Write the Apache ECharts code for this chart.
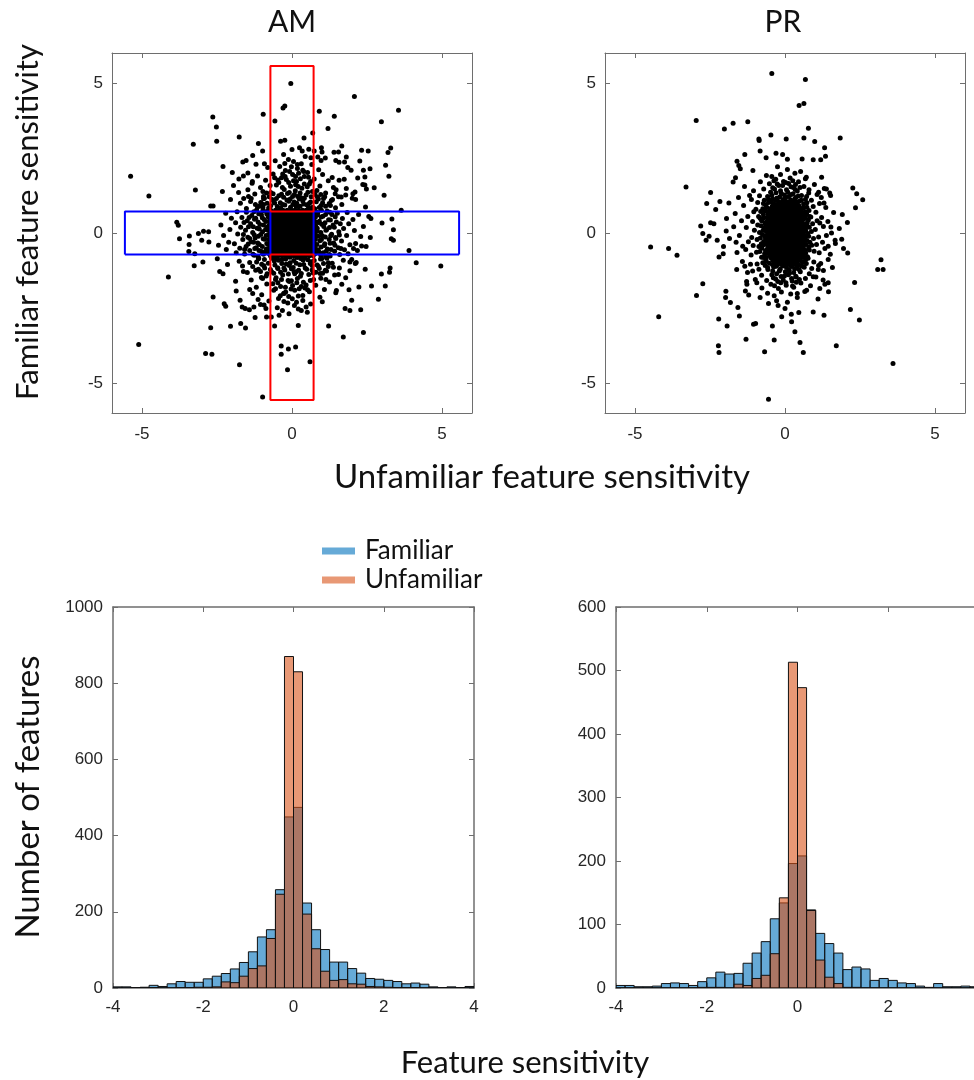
<!DOCTYPE html>
<html><head><meta charset="utf-8">
<script src="https://cdn.jsdelivr.net/npm/echarts@6/dist/echarts.min.js"></script>
<style>html,body{margin:0;padding:0;background:#fff}#c{width:974px;height:1080px}</style>
</head><body><div id="c"></div><script>
// ---------- Scatter data (Unfamiliar x, Familiar y) ----------
const amOuter = [[-0.04,4.98],[2.08,4.55],[-0.24,4.23],[-0.30,4.17],[-0.96,3.96],[0.91,4.06],[1.41,3.89],[3.55,4.09],[-2.64,3.87],[-0.57,3.73],[-2.52,3.53],[1.20,3.48],[0.69,3.33],[2.98,3.71],[-1.76,3.20],[-2.51,3.06],[-3.29,2.96],[-0.38,3.06],[-0.24,3.09],[0.40,3.17],[-1.12,2.98],[-0.98,2.73],[0.0,2.78],[0.25,2.84],[0.34,2.73],[0.56,2.79],[0.98,2.84],[1.00,2.70],[1.40,2.69],[1.55,2.70],[1.66,2.90],[1.81,2.53],[2.32,2.76],[2.54,2.73],[3.29,2.83],[3.20,2.68],[0.74,2.73],[0.63,2.51],[0.86,2.53],[1.11,2.50],[1.46,2.42],[1.57,2.36],[1.75,2.37],[2.26,2.40],[3.12,2.26],[3.23,1.89],[-1.31,2.58],[-1.53,2.42],[-1.64,2.37],[-1.20,2.29],[-2.30,2.22],[-1.99,2.02],[-3.22,1.43],[-2.71,0.90],[-2.63,0.90],[-1.95,1.58],[-1.77,1.80],[-1.62,1.90],[-1.47,2.00],[-4.77,1.23],[-5.38,1.89],[1.86,2.18],[1.97,2.09],[2.38,2.09],[2.60,2.14],[2.19,1.83],[2.43,1.87],[2.74,1.51],[3.07,1.26],[2.43,1.60],[2.48,1.47],[2.10,1.37],[2.12,1.12],[2.03,1.31],[1.47,1.44],[1.64,1.20],[1.79,1.27],[1.57,1.76],[1.74,1.79],[2.45,0.87],[2.63,0.48],[3.00,0.33],[3.33,0.47],[3.38,0.11],[3.64,0.76],[3.31,-0.19],[3.38,-0.24],[3.90,-0.58],[4.14,-0.99],[4.96,-1.10],[3.27,-1.17],[3.25,-1.31],[2.98,-1.37],[3.11,-1.77],[2.65,-1.77],[2.88,-2.21],[2.38,-3.32],[2.29,-2.56],[1.93,-2.58],[1.77,-2.52],[1.71,-3.47],[1.22,-3.10],[2.23,-1.80],[1.99,-2.24],[1.90,-1.89],[1.46,-1.99],[1.66,-1.71],[1.79,-1.49],[2.11,-1.02],[2.32,-0.43],[2.05,-0.52],[1.99,-0.88],[1.93,-0.97],[-4.12,-1.47],[-5.11,-3.72],[-2.88,-4.02],[-2.67,-4.04],[-1.75,-4.39],[-0.98,-5.47],[-0.15,-4.56],[-0.36,-3.77],[-0.12,-3.87],[0.12,-3.80],[-0.36,-4.04],[0.60,-4.29],[-0.10,-2.69],[0.21,-3.08],[-0.58,-3.10],[-0.69,-2.80],[-0.43,-2.74],[-0.32,-2.58],[0.21,-2.53],[0.51,-2.64],[0.47,-2.47],[-2.71,-3.16],[-2.05,-3.11],[-1.55,-3.17],[-1.71,-3.02],[-2.21,-2.44],[-2.26,-2.36],[-2.63,-2.13],[-2.97,-0.97],[-3.26,-1.09],[-3.01,-0.24],[-2.77,-0.30],[-3.12,-0.02],[-3.43,-0.38],[-3.42,-0.10],[-3.75,-0.19],[-3.84,0.36],[-3.79,0.26],[-3.44,-0.62],[-3.24,-0.69],[-2.78,0.04],[-2.95,0.06],[-2.49,-0.86],[-2.30,-1.36],[-1.86,-1.93],[-1.73,-2.24],[-1.66,-2.47],[-1.56,-2.52],[-1.27,-2.47],[-1.23,-2.82],[-1.42,-2.56],[-0.87,-2.52],[-0.85,-2.80],[-0.93,-2.40],[-1.31,-2.02],[-1.13,-2.22]];
const amMid = [[-0.12,2.45],[0.05,2.38],[0.31,2.31],[-0.41,2.22],[0.18,2.15],[-0.22,2.08],[0.52,2.02],[-0.63,1.97],[0.02,1.95],[0.41,1.88],[-0.35,1.84],[0.74,1.80],[-0.88,1.76],[0.15,1.72],[-0.11,1.68],[0.58,1.63],[-0.52,1.60],[0.93,1.57],[-1.05,1.52],[0.33,1.49],[-0.26,1.45],[0.11,1.41],[0.68,1.38],[-0.71,1.35],[1.12,1.33],[-1.24,1.30],[0.47,1.27],[-0.44,1.24],[0.02,1.22],[0.85,1.19],[-0.92,1.16],[0.24,1.13],[-0.17,1.10],[1.31,1.08],[-1.38,1.05],[0.62,1.03],[-0.58,1.00],[0.39,0.97],[-0.31,0.95],[0.97,0.92],[-1.08,0.90],[0.14,0.88],[-0.05,0.86],[1.45,0.84],[-1.52,0.82],[0.76,0.81],[-0.78,0.83],[-0.28,2.62],[0.44,2.55],[-0.56,2.41],[0.66,2.28],[-0.81,2.18],[0.89,2.11],[1.02,1.95],[-1.15,1.90],[1.21,1.74],[-1.33,1.66],[1.38,1.52],[-1.47,1.44],[1.55,1.21],[-1.61,1.15],[1.66,0.95],[-1.72,0.99],[-0.02,2.21],[0.22,1.99],[-0.47,1.77],[0.51,1.54],[-0.15,1.32],[0.29,1.18],[-0.66,1.12],[0.07,1.03],[0.55,0.87],[-0.38,0.84],[0.83,1.42],[-0.97,1.38],[0.12,1.61],[-0.23,1.88],[0.36,2.09],[0.62,1.72],[-0.73,1.58],[0.08,-2.42],[-0.14,-2.33],[0.36,-2.25],[-0.45,-2.18],[0.21,-2.10],[-0.26,-2.01],[0.58,-1.96],[-0.61,-1.91],[-0.03,-1.87],[0.43,-1.83],[-0.38,-1.78],[0.79,-1.74],[-0.84,-1.70],[0.16,-1.66],[-0.09,-1.62],[0.61,-1.58],[-0.55,-1.55],[0.96,-1.51],[-1.02,-1.48],[0.28,-1.44],[-0.31,-1.40],[0.09,-1.36],[0.71,-1.33],[-0.68,-1.29],[1.15,-1.27],[-1.21,-1.24],[0.49,-1.21],[-0.47,-1.18],[0.04,-1.15],[0.88,-1.12],[-0.94,-1.09],[0.26,-1.06],[-0.19,-1.03],[1.34,-1.01],[-1.41,-0.98],[0.64,-0.96],[-0.59,-0.93],[0.37,-0.90],[-0.33,-0.88],[0.99,-0.86],[-1.11,-0.84],[0.17,-0.82],[-0.07,-0.81],[0.31,-2.58],[-0.49,-2.49],[0.62,-2.37],[-0.77,-2.27],[0.93,-2.14],[-1.01,-2.06],[1.08,-1.88],[-1.19,-1.81],[1.25,-1.63],[-1.36,-1.57],[1.42,-1.40],[-1.49,-1.32],[1.58,-1.17],[-1.65,-1.10],[1.71,-0.91],[-1.76,-0.94],[0.01,-2.19],[-0.21,-1.97],[0.47,-1.73],[-0.53,-1.49],[0.14,-1.29],[-0.27,-1.17],[0.67,-1.08],[-0.06,-0.99],[-0.56,-0.84],[0.42,-0.83],[-0.86,-1.43],[0.94,-1.35],[-0.13,-1.58],[0.24,-1.86],[-0.39,-2.09],[-0.64,-1.69],[0.72,-1.55],[-0.85,0.72],[-0.93,0.45],[-0.88,0.12],[-0.91,-0.21],[-0.86,-0.53],[-0.95,-0.71],[-1.02,0.61],[-1.07,0.28],[-1.04,-0.05],[-1.09,-0.38],[-1.01,-0.62],[-1.18,0.77],[-1.21,0.49],[-1.16,0.16],[-1.23,-0.17],[-1.19,-0.49],[-1.26,-0.74],[-1.34,0.58],[-1.38,0.31],[-1.31,0.02],[-1.36,-0.29],[-1.41,-0.58],[-1.52,0.69],[-1.49,0.41],[-1.55,0.09],[-1.47,-0.14],[-1.53,-0.45],[-1.58,-0.70],[-1.67,0.52],[-1.71,0.19],[-1.64,-0.22],[-1.74,-0.51],[-1.83,0.71],[-1.88,0.34],[-1.81,-0.03],[-1.92,-0.36],[-1.86,-0.66],[-2.02,0.49],[-2.07,0.12],[-2.11,-0.31],[-2.21,0.66],[-2.28,-0.08],[-2.19,-0.55],[-2.37,0.27],[-2.45,-0.41],[0.86,0.68],[0.91,0.39],[0.84,0.07],[0.93,-0.26],[0.87,-0.57],[0.96,-0.74],[1.03,0.56],[1.06,0.22],[1.01,-0.09],[1.08,-0.42],[1.04,-0.66],[1.17,0.73],[1.22,0.44],[1.15,0.11],[1.24,-0.22],[1.18,-0.53],[1.27,-0.77],[1.33,0.62],[1.37,0.27],[1.32,-0.04],[1.39,-0.33],[1.42,-0.61],[1.51,0.66],[1.48,0.37],[1.56,0.04],[1.46,-0.18],[1.54,-0.49],[1.59,-0.72],[1.68,0.48],[1.72,0.15],[1.65,-0.27],[1.75,-0.56],[1.84,0.68],[1.89,0.31],[1.82,-0.08],[1.93,-0.39],[1.87,-0.69],[2.03,0.45],[2.08,0.08],[2.12,-0.35],[2.22,0.62],[2.29,-0.12],[2.18,-0.58],[2.38,0.22],[2.47,-0.45],[2.56,0.55],[2.61,-0.15],[-0.95,0.95],[1.05,1.15],[1.28,0.92],[-1.12,-1.21],[1.21,-1.12],[-0.98,-1.52],[1.13,-1.55],[-1.45,1.22],[1.44,1.31],[-1.62,-1.28],[1.55,-1.38],[-1.78,1.35],[1.81,1.48],[-1.88,-1.61],[1.93,-1.26],[-2.05,1.12],[2.01,1.16],[-2.15,-1.05],[2.14,-0.98],[-1.32,1.72],[1.34,1.85],[-1.41,-1.88],[1.48,-1.92],[-2.32,1.38],[2.36,1.62],[-2.41,-1.28],[2.44,-1.21],[-0.92,2.31],[0.97,2.42],[-1.05,-2.38],[1.01,-2.29]];
const amRing = [[-1.15,0.87],[-0.97,0.84],[-0.71,0.91],[-0.49,0.88],[-0.24,0.93],[0.03,0.95],[0.27,0.89],[0.49,0.94],[0.69,0.86],[0.91,0.85],[1.12,0.89],[-1.04,1.02],[-0.83,0.99],[-0.61,1.05],[-0.39,1.01],[-0.11,1.06],[0.16,0.99],[0.36,1.07],[0.58,0.99],[0.81,1.04],[1.02,1.01],[-0.95,1.14],[-0.76,1.21],[-0.52,1.15],[-0.28,1.19],[-0.06,1.13],[0.19,1.22],[0.41,1.16],[0.64,1.21],[0.88,1.13],[1.09,1.21],[-0.63,1.31],[-0.35,1.29],[-0.09,1.35],[0.08,1.28],[0.27,1.33],[0.53,1.36],[0.77,1.28],[-0.85,1.33],[-0.32,1.52],[0.21,1.55],[-0.05,1.56],[0.41,1.63],[-0.44,1.68],[0.05,1.74],[-0.19,1.78],[0.28,1.81],[0.55,1.86],[-0.58,1.84],[0.12,1.88],[-0.31,1.97],[0.39,2.05],[-0.08,2.05],[0.18,2.28],[-0.24,2.32],[-1.12,-0.86],[-0.92,-0.88],[-0.68,-0.84],[-0.45,-0.91],[-0.21,-0.87],[0.06,-0.92],[0.29,-0.85],[0.53,-0.89],[0.74,-0.92],[0.95,-0.87],[1.16,-0.84],[-1.01,-1.04],[-0.79,-1.01],[-0.57,-1.07],[-0.34,-1.02],[-0.09,-1.08],[0.14,-1.01],[0.39,-1.05],[0.61,-1.02],[0.84,-1.07],[1.05,-1.02],[-0.91,-1.17],[-0.72,-1.22],[-0.48,-1.16],[-0.24,-1.23],[-0.02,-1.19],[0.22,-1.24],[0.44,-1.17],[0.67,-1.23],[0.91,-1.18],[1.11,-1.24],[-0.61,-1.34],[-0.38,-1.31],[-0.12,-1.37],[0.07,-1.29],[0.31,-1.35],[0.56,-1.38],[0.8,-1.31],[-0.83,-1.36],[-0.35,-1.55],[0.18,-1.52],[-0.02,-1.59],[0.38,-1.64],[-0.47,-1.66],[0.02,-1.75],[-0.22,-1.81],[0.31,-1.78],[0.52,-1.89],[-0.55,-1.86],[0.09,-1.91],[-0.28,-2.02],[0.36,-2.08],[-0.11,-2.12],[0.15,-2.31],[-0.27,-2.28],[-0.84,0.63],[-0.87,0.38],[-0.83,0.19],[-0.86,-0.08],[-0.84,-0.35],[-0.88,-0.64],[-0.97,0.74],[-0.99,0.51],[-0.95,0.27],[-0.98,0.04],[-0.96,-0.19],[-0.99,-0.45],[-0.97,-0.68],[-1.11,0.64],[-1.13,0.37],[-1.09,0.13],[-1.12,-0.11],[-1.14,-0.33],[-1.1,-0.58],[-1.13,-0.79],[-1.27,0.71],[-1.25,0.46],[-1.29,0.21],[-1.26,-0.06],[-1.28,-0.31],[-1.24,-0.52],[-1.3,-0.71],[-1.43,0.52],[-1.45,0.21],[-1.41,-0.18],[-1.46,-0.37],[-1.6,0.35],[-1.62,-0.05],[-1.58,-0.55],[0.85,0.61],[0.88,0.35],[0.84,0.16],[0.87,-0.11],[0.83,-0.38],[0.89,-0.62],[0.98,0.76],[0.97,0.53],[0.99,0.29],[0.96,0.02],[0.98,-0.22],[0.97,-0.47],[0.99,-0.69],[1.12,0.62],[1.1,0.34],[1.13,0.09],[1.11,-0.13],[1.09,-0.36],[1.14,-0.61],[1.12,-0.78],[1.26,0.69],[1.28,0.43],[1.25,0.18],[1.29,-0.09],[1.27,-0.34],[1.3,-0.55],[1.25,-0.72],[1.44,0.54],[1.41,0.19],[1.45,-0.15],[1.43,-0.41],[1.61,0.31],[1.58,-0.07],[1.63,-0.52],[-0.95,1.22],[0.96,1.28],[-1.05,-1.28],[1.02,-1.34],[-1.22,0.95],[1.24,0.98],[-1.18,-0.97],[1.21,-0.99],[-1.36,1.15],[1.35,1.12],[-1.31,-1.12],[1.38,-1.14]];
// saturated core: rows of [y, [x values]]
const amCoreRows = [
[0.76,[-0.71,-0.55,-0.42,-0.30,-0.16,-0.03,0.09,0.22,0.35,0.47,0.60,0.72]],
[0.68,[-0.78,-0.64,-0.50,-0.37,-0.24,-0.11,0.02,0.15,0.28,0.41,0.54,0.67,0.79]],
[0.61,[-0.73,-0.58,-0.45,-0.31,-0.19,-0.06,0.08,0.21,0.33,0.46,0.59,0.74]],
[0.53,[-0.79,-0.66,-0.52,-0.39,-0.25,-0.12,0.01,0.14,0.27,0.40,0.53,0.65,0.78]],
[0.46,[-0.72,-0.59,-0.46,-0.33,-0.20,-0.07,0.06,0.19,0.32,0.45,0.58,0.71]],
[0.38,[-0.77,-0.64,-0.51,-0.38,-0.26,-0.13,0.00,0.13,0.26,0.38,0.51,0.64,0.77]],
[0.30,[-0.71,-0.57,-0.44,-0.32,-0.19,-0.06,0.07,0.20,0.33,0.45,0.58,0.72]],
[0.23,[-0.78,-0.65,-0.52,-0.39,-0.25,-0.12,0.01,0.14,0.27,0.40,0.53,0.66,0.79]],
[0.15,[-0.73,-0.59,-0.46,-0.33,-0.19,-0.06,0.08,0.21,0.34,0.47,0.60,0.73]],
[0.08,[-0.79,-0.66,-0.53,-0.40,-0.26,-0.13,0.00,0.13,0.26,0.39,0.52,0.65,0.78]],
[0.00,[-0.72,-0.58,-0.45,-0.32,-0.19,-0.06,0.07,0.20,0.33,0.46,0.59,0.72]],
[-0.07,[-0.78,-0.65,-0.51,-0.38,-0.25,-0.12,0.01,0.14,0.27,0.41,0.54,0.67,0.79]],
[-0.15,[-0.71,-0.58,-0.44,-0.31,-0.18,-0.05,0.08,0.21,0.34,0.47,0.60,0.73]],
[-0.22,[-0.77,-0.64,-0.50,-0.37,-0.24,-0.11,0.02,0.15,0.28,0.42,0.55,0.68,0.78]],
[-0.30,[-0.72,-0.59,-0.46,-0.33,-0.20,-0.07,0.06,0.19,0.32,0.45,0.58,0.71]],
[-0.38,[-0.79,-0.65,-0.52,-0.39,-0.26,-0.13,0.00,0.13,0.26,0.39,0.52,0.65,0.77]],
[-0.45,[-0.73,-0.60,-0.47,-0.34,-0.21,-0.08,0.05,0.18,0.31,0.44,0.57,0.70]],
[-0.53,[-0.78,-0.65,-0.51,-0.38,-0.25,-0.12,0.01,0.14,0.27,0.40,0.53,0.66,0.79]],
[-0.61,[-0.71,-0.58,-0.45,-0.32,-0.19,-0.06,0.07,0.20,0.33,0.46,0.59,0.72]],
[-0.68,[-0.77,-0.64,-0.51,-0.38,-0.25,-0.12,0.01,0.14,0.27,0.40,0.53,0.66,0.78]],
[-0.76,[-0.72,-0.59,-0.46,-0.33,-0.20,-0.07,0.06,0.19,0.32,0.45,0.58,0.71]]];

const prOuter = [[-0.44,5.32],[0.68,5.12],[0.47,4.25],[0.63,4.32],[-2.96,3.75],[-2.02,3.47],[-1.73,3.66],[-1.24,3.71],[0.78,3.49],[-0.87,3.13],[-0.86,3.08],[-0.47,3.27],[0.04,3.13],[0.63,3.17],[0.99,3.05],[1.84,3.17],[1.32,2.84],[1.35,2.56],[1.19,2.44],[0.94,2.44],[0.57,2.47],[-0.83,2.73],[-1.34,2.62],[-0.63,2.51],[-0.30,2.66],[-0.08,2.62],[0.08,2.46],[-1.60,2.39],[-1.54,2.25],[-1.49,2.14],[-1.07,2.08],[-1.65,1.84],[-1.73,1.70],[-3.30,1.53],[-2.48,1.35],[-2.61,0.98],[-2.31,0.78],[-2.17,1.05],[-1.87,1.00],[-2.81,0.23],[-2.74,-0.02],[-2.53,-0.11],[-2.63,-0.24],[-2.26,-0.24],[-1.96,0.07],[-2.48,0.34],[-2.37,0.31],[-4.48,-0.47],[-3.88,-0.52],[-3.60,-0.74],[-2.20,-0.80],[-2.06,-0.69],[-1.60,-0.65],[-2.74,-1.69],[-2.95,-2.08],[-1.97,-1.94],[-1.98,-2.15],[-1.82,-2.32],[-1.57,-2.48],[-1.52,-2.77],[-4.21,-2.79],[-2.21,-2.87],[-1.93,-3.10],[-1.30,-3.54],[-1.05,-3.04],[-0.98,-3.02],[-2.22,-3.76],[-2.20,-3.98],[-0.68,-3.96],[-0.42,-3.10],[-0.36,-3.57],[-0.11,-2.79],[0.21,-2.71],[0.33,-3.29],[0.50,-3.65],[0.61,-3.98],[-0.55,-5.54],[0.22,-2.96],[0.46,-2.65],[0.94,-2.63],[1.30,-2.74],[1.71,-3.76],[1.10,-2.20],[1.45,-1.96],[1.27,-1.57],[1.44,-1.66],[1.16,-1.85],[2.18,-2.55],[2.48,-2.90],[2.32,-1.65],[2.09,-0.67],[1.89,-0.21],[1.67,-0.24],[1.44,-0.44],[3.09,-1.22],[3.20,-0.89],[3.27,-1.22],[3.60,-4.35],[1.91,0.62],[2.26,1.50],[2.39,1.31],[2.59,1.11],[2.35,0.84],[1.49,1.33],[1.38,1.47],[1.12,1.36],[1.22,1.86],[0.68,1.81],[0.80,1.44],[0.72,1.22],[1.30,1.00],[1.53,0.20],[1.38,-0.08],[1.55,0.00],[1.16,0.33],[1.51,-0.71],[1.19,-1.02],[0.94,-1.46],[0.72,-1.91],[0.41,-2.02],[0.00,-2.52],[-0.28,-2.26],[-0.55,-2.35],[-0.83,-2.15],[-1.21,-2.07],[-1.32,-1.93],[-0.94,-1.66],[-1.34,-1.11],[-1.27,-1.71]];
const prMid = [[-0.05,1.72],[0.12,1.65],[-0.21,1.58],[0.28,1.52],[-0.35,1.47],[0.05,1.44],[0.41,1.40],[-0.48,1.36],[-0.12,1.32],[0.21,1.28],[0.55,1.25],[-0.58,1.22],[0.36,1.18],[-0.28,1.16],[0.68,1.12],[-0.69,1.09],[0.02,1.18],[-0.42,1.13],[0.48,1.06],[-0.55,1.02],[0.62,0.97],[-0.64,0.93],[0.73,0.86],[-0.74,0.81],[0.17,1.83],[-0.31,1.79],[0.45,1.71],[-0.52,1.64],[0.63,1.55],[-0.71,1.47],[0.79,1.33],[-0.85,1.24],[0.88,1.09],[-0.91,1.02],[0.94,0.88],[-0.97,0.79],[-0.15,1.95],[0.33,1.99],[-0.44,1.88],[0.08,2.12],[-0.25,2.21],[0.52,2.05],[-0.62,1.92],[0.71,1.86],[-0.82,1.71],[0.98,1.62],[-1.05,1.41],[1.07,1.28],[-1.12,1.12],[1.15,0.98],[0.04,-1.74],[-0.14,-1.66],[0.24,-1.60],[-0.31,-1.53],[0.37,-1.47],[-0.02,-1.43],[-0.44,-1.39],[0.15,-1.34],[0.51,-1.29],[-0.19,-1.27],[-0.57,-1.22],[0.32,-1.19],[0.64,-1.14],[-0.38,-1.13],[-0.66,-1.08],[0.45,-1.06],[0.05,-1.15],[-0.52,-1.01],[0.58,-0.98],[-0.63,-0.92],[0.69,-0.88],[-0.71,-0.82],[0.75,-0.79],[-0.22,-1.85],[0.29,-1.81],[-0.47,-1.71],[0.53,-1.67],[-0.61,-1.58],[0.68,-1.52],[-0.78,-1.41],[0.81,-1.36],[-0.87,-1.21],[0.89,-1.18],[-0.93,-1.03],[0.96,-0.97],[-0.12,-1.97],[0.19,-2.03],[-0.36,-2.09],[0.41,-2.15],[-0.58,-2.01],[0.66,-1.95],[-0.77,-1.83],[0.85,-1.76],[-0.99,-1.55],[1.03,-1.47],[-1.08,-1.27],[1.11,-1.22],[-1.15,-1.04],[1.12,-1.08],[0.08,-2.31],[-0.23,-2.42],[-0.72,0.62],[-0.78,0.41],[-0.69,0.18],[-0.75,-0.05],[-0.71,-0.28],[-0.77,-0.51],[-0.68,-0.69],[0.72,0.64],[0.78,0.43],[0.70,0.21],[0.76,-0.02],[0.73,-0.25],[0.79,-0.47],[0.69,-0.67],[-0.88,0.55],[-0.91,0.27],[-0.85,0.02],[-0.93,-0.22],[-0.87,-0.45],[-0.95,-0.64],[0.86,0.53],[0.92,0.31],[0.88,0.05],[0.95,-0.18],[0.89,-0.41],[0.97,-0.61],[-1.04,0.71],[-1.08,0.38],[-1.02,0.09],[-1.11,-0.15],[-1.06,-0.42],[-1.13,-0.73],[1.03,0.69],[1.07,0.41],[1.01,0.12],[1.12,-0.13],[1.05,-0.38],[1.14,-0.66],[-1.24,0.55],[-1.29,0.18],[-1.22,-0.29],[-1.31,-0.55],[1.22,0.52],[1.28,0.22],[1.25,-0.31],[1.33,-0.52],[-1.45,0.41],[-1.52,-0.08],[-1.41,-0.44],[1.43,0.38],[-1.66,0.65],[-1.71,0.21],[-1.63,-0.31],[1.62,0.68],[1.68,-0.35],[-1.85,-0.18],[1.81,0.15],[-1.95,0.48],[1.95,-0.52],[-2.05,-0.45],[2.08,0.35],[-1.18,1.25],[1.21,1.18],[-1.25,-1.32],[1.28,-1.25],[-1.38,0.92],[1.36,0.85],[-1.42,-0.95],[1.44,-0.88],[-1.55,1.18],[1.52,1.25],[-1.61,-1.22],[1.58,-1.15],[-1.35,1.55],[1.31,1.48],[-1.28,-1.62],[1.33,-1.71]];
const prRing = [[-0.46,1.04],[0.38,1.03],[-0.33,1.1],[0.19,1.11],[-0.06,1.12],[0.33,1.14],[-0.18,1.2],[0.12,1.22],[0.44,1.23],[-0.44,1.26],[-0.02,1.27],[0.27,1.31],[-0.3,1.34],[0.09,1.37],[-0.15,1.41],[0.34,1.45],[-0.41,1.51],[0.2,1.54],[-0.08,1.58],[0.5,1.52],[-0.26,1.63],[0.35,1.62],[0.02,1.68],[-0.37,1.74],[0.26,1.74],[-0.42,-1.05],[0.35,-1.04],[-0.29,-1.11],[0.21,-1.12],[-0.07,-1.1],[0.39,-1.17],[-0.16,-1.21],[0.14,-1.24],[0.47,-1.22],[-0.41,-1.27],[0.01,-1.29],[0.29,-1.32],[-0.28,-1.36],[0.11,-1.39],[-0.13,-1.45],[0.36,-1.44],[-0.39,-1.49],[0.22,-1.52],[-0.06,-1.57],[0.48,-1.55],[-0.24,-1.62],[0.38,-1.64],[0.03,-1.66],[-0.35,-1.76],[0.25,-1.77],[-0.61,0.86],[-0.66,0.74],[-0.71,0.51],[-0.67,0.33],[-0.73,0.09],[-0.66,-0.14],[-0.72,-0.39],[-0.65,-0.59],[-0.62,-0.82],[-0.64,-0.95],[-0.81,0.72],[-0.83,0.49],[-0.8,0.24],[-0.82,-0.17],[-0.79,-0.36],[-0.84,-0.62],[-0.78,-0.81],[0.61,0.83],[0.67,0.71],[0.68,0.53],[0.74,0.33],[0.69,0.08],[0.67,-0.13],[0.7,-0.38],[0.66,-0.56],[0.63,-0.79],[0.6,-0.95],[0.8,0.75],[0.82,0.55],[0.81,0.19],[0.79,-0.11],[0.83,-0.31],[0.81,-0.57],[0.77,-0.84],[-0.55,1.12],[0.54,1.09],[-0.58,-1.15],[0.56,-1.1],[-0.72,0.98],[0.73,1.01],[-0.74,-0.99],[0.71,-1.02]];
const prCoreRows = [
[1.05,[-0.22,-0.09,0.04,0.17,0.29]],
[0.97,[-0.36,-0.23,-0.10,0.03,0.16,0.29,0.41]],
[0.90,[-0.42,-0.29,-0.16,-0.03,0.10,0.23,0.36,0.47]],
[0.82,[-0.48,-0.35,-0.22,-0.09,0.04,0.17,0.30,0.43,0.53]],
[0.75,[-0.52,-0.39,-0.26,-0.13,0.00,0.13,0.26,0.39,0.52]],
[0.67,[-0.57,-0.44,-0.31,-0.18,-0.05,0.08,0.21,0.34,0.47,0.58]],
[0.60,[-0.55,-0.42,-0.29,-0.16,-0.03,0.10,0.23,0.36,0.49,0.61]],
[0.52,[-0.60,-0.47,-0.34,-0.21,-0.08,0.05,0.18,0.31,0.44,0.57]],
[0.45,[-0.56,-0.43,-0.30,-0.17,-0.04,0.09,0.22,0.35,0.48,0.62]],
[0.37,[-0.62,-0.49,-0.36,-0.23,-0.10,0.03,0.16,0.29,0.42,0.55]],
[0.30,[-0.57,-0.44,-0.31,-0.18,-0.05,0.08,0.21,0.34,0.47,0.61]],
[0.22,[-0.63,-0.50,-0.37,-0.24,-0.11,0.02,0.15,0.28,0.41,0.54,0.65]],
[0.15,[-0.57,-0.44,-0.31,-0.18,-0.05,0.08,0.21,0.34,0.47,0.60]],
[0.07,[-0.63,-0.50,-0.37,-0.24,-0.11,0.02,0.15,0.28,0.41,0.54,0.66]],
[0.00,[-0.57,-0.44,-0.31,-0.18,-0.05,0.08,0.21,0.34,0.47,0.60]],
[-0.08,[-0.63,-0.50,-0.37,-0.24,-0.11,0.02,0.15,0.28,0.41,0.54,0.66]],
[-0.15,[-0.57,-0.44,-0.31,-0.18,-0.05,0.08,0.21,0.34,0.47,0.60]],
[-0.23,[-0.62,-0.49,-0.36,-0.23,-0.10,0.03,0.16,0.29,0.42,0.55,0.65]],
[-0.30,[-0.56,-0.43,-0.30,-0.17,-0.04,0.09,0.22,0.35,0.48,0.61]],
[-0.38,[-0.61,-0.48,-0.35,-0.22,-0.09,0.04,0.17,0.30,0.43,0.56]],
[-0.45,[-0.55,-0.42,-0.29,-0.16,-0.03,0.10,0.23,0.36,0.49,0.61]],
[-0.53,[-0.59,-0.46,-0.33,-0.20,-0.07,0.06,0.19,0.32,0.45,0.57]],
[-0.60,[-0.53,-0.40,-0.27,-0.14,-0.01,0.12,0.25,0.38,0.51,0.60]],
[-0.68,[-0.56,-0.43,-0.30,-0.17,-0.04,0.09,0.22,0.35,0.48,0.57]],
[-0.75,[-0.50,-0.37,-0.24,-0.11,0.02,0.15,0.28,0.41,0.53]],
[-0.83,[-0.46,-0.33,-0.20,-0.07,0.06,0.19,0.32,0.45,0.52]],
[-0.90,[-0.41,-0.28,-0.15,-0.02,0.11,0.24,0.37,0.47]],
[-0.98,[-0.34,-0.21,-0.08,0.05,0.18,0.31,0.41]],
[-1.05,[-0.25,-0.12,0.01,0.14,0.27]]];

// Selection boxes (AM panel)
const boxInner = 0.72;   // half-width of the central window
const boxOuter = 5.57;   // extent of the arms

// ---------- Histogram data ----------
const binLeft = [-4,-3.8,-3.6,-3.4,-3.2,-3,-2.8,-2.6,-2.4,-2.2,-2,-1.8,-1.6,-1.4,-1.2,-1,-0.8,-0.6,-0.4,-0.2,0,0.2,0.4,0.6,0.8,1,1.2,1.4,1.6,1.8,2,2.2,2.4,2.6,2.8,3,3.2,3.4,3.6,3.8];
const binWidth = 0.2;
const amFamiliar   = [3,3,1,2,7,4,11,17,15,15,24,31,38,50,67,95,134,153,258,449,474,223,153,101,68,68,51,39,25,23,20,17,11,13,10,3,1,3,1,4];
const amUnfamiliar = [0,0,0,0,1,0,0,1,1,2,2,3,16,14,31,51,58,130,246,870,830,194,103,44,20,22,11,10,4,3,2,1,1,1,0,0,0,0,0,0];
const prFamiliar   = [4,4,2,2,3,7,8,7,4,10,16,25,22,23,39,55,73,109,134,196,208,123,86,70,55,29,33,30,12,15,12,8,7,3,1,7,2,2,3,2];
const prUnfamiliar = [0,0,0,0,0,0,0,0,0,1,1,1,0,6,4,15,20,54,142,513,473,122,44,17,7,1,1,0,0,0,0,0,0,0,0,0,0,0,0,0];

// ---------- Build ----------
function flattenRows(rows){ const out=[]; rows.forEach(r=>r[1].forEach(x=>out.push([x,r[0]]))); return out; }
const amPoints = amOuter.concat(amMid, amRing, flattenRows(amCoreRows));
const prPoints = prOuter.concat(prMid, prRing, flattenRows(prCoreRows));
function histData(counts){ return counts.map((c,i)=>[binLeft[i], binLeft[i]+binWidth, c]); }

const BLUE = 'rgba(0,114,189,0.6)', ORANGE = 'rgba(217,83,25,0.6)';
const tickFont = {fontFamily:'Liberation Sans, Arial', fontSize:17, color:'#262626', formatter:function(v){return String(v);}};
const frameColor = '#6e6e6e';

function axesFor(g, xmin, xmax, xopt, ymin, ymax, yopt, lw){
  const line = {show:true, onZero:false, lineStyle:{color:frameColor, width:lw}};
  const tick = Object.assign({show:true, inside:true, length:5, lineStyle:{color:frameColor, width:1}}, xopt.tick||{});
  const ytick = Object.assign({show:true, inside:true, length:5, lineStyle:{color:frameColor, width:1}}, yopt.tick||{});
  const xs = [
    Object.assign({type:'value', gridIndex:g, min:xmin, max:xmax, position:'bottom', axisLine:line, axisTick:tick, splitLine:{show:false},
      axisLabel:Object.assign({margin:xopt.margin||12}, tickFont, xopt.label||{})}, xopt.interval?{interval:xopt.interval}:{}),
    Object.assign({type:'value', gridIndex:g, min:xmin, max:xmax, position:'top', axisLine:line, axisTick:tick, splitLine:{show:false},
      axisLabel:{show:false}}, xopt.interval?{interval:xopt.interval}:{})
  ];
  const ys = [
    Object.assign({type:'value', gridIndex:g, min:ymin, max:ymax, position:'left', axisLine:line, axisTick:ytick, splitLine:{show:false},
      axisLabel:Object.assign({margin:yopt.margin||9}, tickFont, yopt.label||{})}, yopt.interval?{interval:yopt.interval}:{}),
    Object.assign({type:'value', gridIndex:g, min:ymin, max:ymax, position:'right', axisLine:line, axisTick:ytick, splitLine:{show:false},
      axisLabel:{show:false}}, yopt.interval?{interval:yopt.interval}:{})
  ];
  return {xs, ys};
}
const sTicks = [-5,0,5];
const sOpt = {tick:{customValues:sTicks}, label:{customValues:sTicks}, margin:13};
const sOptY = {tick:{customValues:sTicks}, label:{customValues:sTicks}, margin:9};
const a0 = axesFor(0,-6,6,sOpt,-6,6,sOptY,1);
const a1 = axesFor(1,-6,6,sOpt,-6,6,sOptY,1);
const a2 = axesFor(2,-4,4,{interval:2, margin:11},0,1000,{interval:200, margin:10},1.5);
const a3 = axesFor(3,-4,4,{interval:2, margin:11},0,600,{interval:100, margin:10},1.5);

function histSeries(name, counts, color, xi, yi){
  return {type:'custom', name:name, xAxisIndex:xi, yAxisIndex:yi, clip:true,
    itemStyle:{color:color}, color:color,
    encode:{x:[0,1], y:2},
    data:histData(counts),
    renderItem:function(params, api){
      const p0 = api.coord([api.value(0), api.value(2)]);
      const p1 = api.coord([api.value(1), 0]);
      return {type:'rect', shape:{x:p0[0], y:p0[1], width:p1[0]-p0[0], height:p1[1]-p0[1]},
        style:{fill:color, stroke:'#111', lineWidth:1}};
    }};
}
function boxSeries(name, pts, color){
  return {type:'line', name:name, xAxisIndex:0, yAxisIndex:0, data:pts, symbol:'none', silent:true,
    lineStyle:{color:color, width:2}, z:5, animation:false};
}
const bi = boxInner, bo = boxOuter;
const blueLeft  = [[-bo,-bi],[-bi,-bi],[-bi,bi],[-bo,bi],[-bo,-bi]];
const blueRight = [[bo,-bi],[bi,-bi],[bi,bi],[bo,bi],[bo,-bi]];
const redTop    = [[-bi,bi],[-bi,bo],[bi,bo],[bi,bi],[-bi,bi]];
const redBottom = [[-bi,-bi],[-bi,-bo],[bi,-bo],[bi,-bi],[-bi,-bi]];

const txt = (t, x, y, size, rot) => ({type:'text', x:x, y:y, rotation:rot||0,
  style:{text:t, fill:'#111', font:'normal '+size+'px Lato, "Open Sans", sans-serif', textAlign:'center', textVerticalAlign:'middle'}});

const chart = echarts.init(document.getElementById('c'), null, {renderer:'canvas'});
chart.setOption({
  animation:false,
  backgroundColor:'#fff',
  grid:[
    {left:112, top:53, width:360, height:360, outerBoundsMode:'none'},
    {left:605, top:53, width:360, height:360, outerBoundsMode:'none'},
    {left:113, top:607, width:361, height:381, outerBoundsMode:'none'},
    {left:616, top:607, width:363, height:381, outerBoundsMode:'none'}
  ],
  xAxis:[].concat(a0.xs, a1.xs, a2.xs, a3.xs),
  yAxis:[].concat(a0.ys, a1.ys, a2.ys, a3.ys),
  legend:{data:['Familiar','Unfamiliar'], orient:'vertical', left:317, top:533, icon:'rect', itemWidth:33, itemHeight:7, itemGap:3,
    textStyle:{fontFamily:'Lato', fontSize:26, color:'#111', padding:[0,0,0,5]}},
  graphic:[
    txt('AM', 292, 22, 30), txt('PR', 783, 22, 30),
    txt('Familiar feature sensitivity', 28, 222, 31, Math.PI/2),
    txt('Unfamiliar feature sensitivity', 542, 477, 33),
    txt('Number of features', 28, 797, 33, Math.PI/2),
    txt('Feature sensitivity', 525, 1063, 31)
  ],
  series:[
    {type:'scatter', name:'AM', xAxisIndex:0, yAxisIndex:0, data:amPoints, symbol:'circle', symbolSize:5, itemStyle:{color:'#000', opacity:1}, silent:true},
    boxSeries('b1', blueLeft, '#0000ff'), boxSeries('b2', blueRight, '#0000ff'),
    boxSeries('r1', redTop, '#ff0000'), boxSeries('r2', redBottom, '#ff0000'),
    {type:'scatter', name:'PR', xAxisIndex:2, yAxisIndex:2, data:prPoints, symbol:'circle', symbolSize:5, itemStyle:{color:'#000', opacity:1}, silent:true},
    histSeries('Familiar', amFamiliar, BLUE, 4, 4),
    histSeries('Unfamiliar', amUnfamiliar, ORANGE, 4, 4),
    histSeries('Familiar', prFamiliar, BLUE, 6, 6),
    histSeries('Unfamiliar', prUnfamiliar, ORANGE, 6, 6)
  ]
});
</script></body></html>
